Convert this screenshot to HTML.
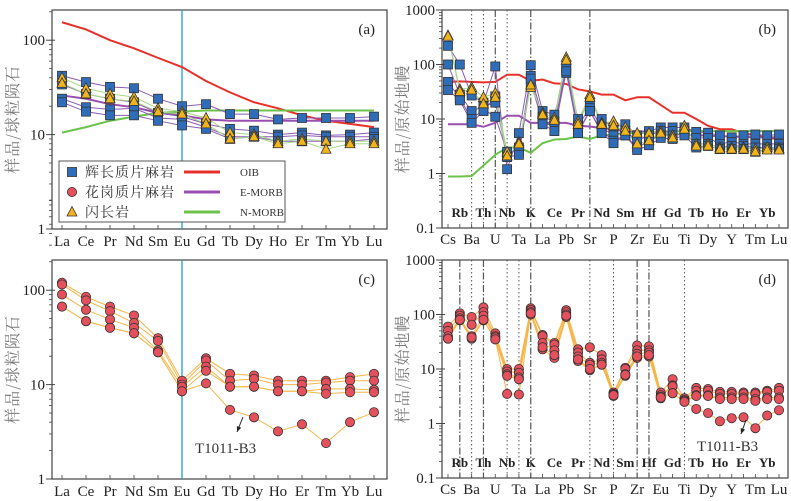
<!DOCTYPE html>
<html><head><meta charset="utf-8">
<style>
html,body{margin:0;padding:0;background:#fff;}
svg{display:block;font-family:"Liberation Serif","Noto Serif CJK SC",serif;}
</style></head>
<body>
<svg id="fig" width="791" height="501" viewBox="0 0 791 501" xmlns="http://www.w3.org/2000/svg"></svg>
<script>
// ---------- data ----------
const reeCats = ["La","Ce","Pr","Nd","Sm","Eu","Gd","Tb","Dy","Ho","Er","Tm","Yb","Lu"];
const spiderCats = ["Cs","Rb","Ba","Th","U","Nb","Ta","K","La","Ce","Pb","Pr","Sr","Nd","P","Sm","Zr","Hf","Eu","Gd","Ti","Tb","Dy","Ho","Y","Er","Tm","Yb","Lu"];
const spiderLower = ["Cs","Ba","U","Ta","La","Pb","Sr","P","Zr","Eu","Ti","Dy","Y","Tm","Lu"];
const logTicksA = [1,10,100];
const logTicksB = [0.1,1,10,100,1000];

const reeOIB   = [155,130,100,82,65,52,37,28,22,19,16,14,13,12];
const reeEMORB = [26,24,21,19.5,17,16,14.5,14,14,14,14,14,14,14];
const reeNMORB = [10.5,12,14,15.5,17,17.5,18,18,18,18,18,18,18,18];
const reeGab1 = [42,36,32,31,24,20,21,16.5,16.5,14.5,15,15,15,15.5];
const reeGab2 = [34,27,24,22,17,15.5,13,11.5,11,10,10.5,9.8,10,10.5];
const reeGab3 = [24,19.5,18.5,19,15,14.5,12,9.5,9.5,9.5,9.8,9.5,9.5,9.5];
const reeGab4 = [22,17.5,16,16,14,12.5,11.5,9,9.5,8.5,8.5,8.5,8.5,9];
const reeDio1 = [40,31,27,25,19,17.5,15,10.5,10,8.5,9,8.5,8.5,8.5];
const reeDio2 = [35,27,24,22.5,17.5,16.5,13,9,9.5,8,8.5,7,8,8];
const reeGra1 = [120,85,67,54,31,11,19,13,12.5,11,11,11,12,13];
const reeGra2 = [115,78,60,45,29,10,18,11,11.5,10,10,10.5,11,11];
const reeGra3 = [90,62,49,40,23,9.5,15.5,9.5,9.5,8.5,8.5,9,9,8.8];
const reeGra4 = [67,47,40,35,22,8.5,14,9.5,9.5,8.5,8.5,8,8.3,8.3];
const reeGraB3 = [67,47,40,35,22,8.5,10.3,5.4,4.5,3.2,3.8,2.4,4,5.1];

const spOIB   = [48,49,48,47,48,65,65,50,53,45,44,35,32,28,28,22,25,25,18,13,13,10,7.5,6.5,6.5,5.5,5,4.5,4.3];
const spEMORB = [8,8,8,7.2,8.5,11.5,11.5,8.5,8.5,8.5,8.5,7.5,7.3,6.8,6.5,6,6,5.8,5.5,5.3,5.2,5,5,4.8,4.8,4.7,4.6,4.6,4.6];
const spNMORB = [0.88,0.88,0.9,1.4,2.2,3,3,2.4,3.6,4.2,4.3,4.8,4.3,5,5.2,5.5,5.5,5.6,5.8,6,6,6,6,6,6,6,6,6,6];
const spGab1 = [220,100,27,20,92,1.2,5.5,97,14,12,80,10,20,10,7,8,5,6,7,7,7,5.8,5.6,5,4.6,5,5.2,5,5.2];
const spGab2 = [100,28,14,17,20,2.3,3,62,11,9,70,7.5,16,7,5,6,4,5,6,6,6,4.5,4.5,3.5,3.8,3.5,3.5,3.5,3.5];
const spGab3 = [48,24,10,15,11,2.5,2.5,45,9,7,90,6,14,6,4,5,3,4,5,5,5.5,3.5,3.5,3,3.2,3.2,3,3,3];
const spGab4 = [34,22,8.5,14,26,2,2.2,55,8,6,75,5.5,14,5.5,3.6,5,2.7,3.3,4.5,4.3,5,3,3.2,2.8,2.8,2.8,2.5,2.8,2.8];
const spDio1 = [340,35,38,25,30,2.5,3.8,38,13,10.5,135,9,28,8.5,9,7,5.5,5.5,6,5,7.5,3.5,3.5,3,3,3,2.8,3,2.9];
const spDio2 = [330,32,34,19,25,2.1,3.5,42,12,9.5,120,8,25,8,7.5,6,3.5,4,5.5,4.5,6.5,3.2,3.2,2.8,2.8,2.8,2.5,2.7,2.7];
const spGra1 = [60,105,90,135,45,10,10,130,42,30,120,23,25,18,3.7,10.5,27,26,3.7,6.5,2.9,4.5,4.3,3.8,3.8,3.7,3.7,4,4.5];
const spGra2 = [50,95,65,110,40,9,8.5,120,40,28,110,20,13,15,3.5,10,22,22,3.3,5,2.7,4,4,3.5,3.5,3.5,3.5,3.8,4];
const spGra3 = [40,85,40,95,38,8,7,110,30,22,100,17,12,13,3.4,8,19,20,3.1,4.8,2.6,3.3,3.3,3,3,3,2.8,3,3];
const spGra4 = [36,78,36,78,35,7.5,6.5,100,23,16,90,14,9.5,12,3.2,7.5,16,17,2.9,3.6,2.5,3.2,3.2,2.8,2.8,2.8,2.6,2.8,2.8];
const spGraB3 = [36,80,38,80,35,3.5,3.4,105,25,18,95,15,10,12,3.3,7.8,17,18,3,3.6,2.5,1.85,1.55,1.1,1.25,1.3,0.82,1.4,1.75];

const vlinesB = [["Ba","dot"],["Th","dot"],["U","dashdot"],["Nb","dot"],["K","dashdot"],["Sr","dashdot"]];
const vlinesD = [["Rb","dashdot"],["Ba","dot"],["Th","dashdot"],["Nb","dot"],["Ta","dot"],["K","dashdot"],["Sr","dot"],["P","dot"],["Zr","dashdot"],["Hf","dashdot"],["Ti","dot"]];

// ---------- helpers ----------
const NS="http://www.w3.org/2000/svg";
const svg=document.getElementById('fig');
function mk(tag,attrs,parent){const e=document.createElementNS(NS,tag);for(const k in attrs)e.setAttribute(k,attrs[k]);(parent||svg).appendChild(e);return e;}
function txt(s,attrs,parent){const e=mk('text',attrs,parent);e.textContent=s;return e;}

function makePanel(cfg){
  const g=mk('g',{});
  
  
  const L=cfg.L,R=cfg.R,T=cfg.T,B=cfg.B;
  const lmin=Math.log10(cfg.ymin), lpx=(B-T)/cfg.decades;
  const y=v=>B-(Math.log10(v)-lmin)*lpx;
  const n=cfg.cats.length;
  const x=i=>cfg.x0+i*(cfg.x1-cfg.x0)/(n-1);
  const frame=mk('rect',{x:L,y:T,width:R-L,height:B-T,fill:'none',stroke:'#444','stroke-width':1.2},g);
  
  
  // y ticks
  for(let d=0; d<cfg.decades; d++){
    const base=cfg.ymin*Math.pow(10,d);
    for(let k=2;k<10;k++){const yy=y(base*k);mk('line',{x1:L-3,x2:L,y1:yy,y2:yy,stroke:'#444','stroke-width':0.8},g);}
  }
  cfg.ticks.forEach(t=>{
    const yy=y(t);
    mk('line',{x1:L-6,x2:L+3,y1:yy,y2:yy,stroke:'#444','stroke-width':1},g);
    const tl=txt(String(t),{x:L-7,y:yy+5,'text-anchor':'end','font-size':15,fill:'#222'},g);
    
    
  });
  // x ticks and labels
  cfg.cats.forEach((c,i)=>{
    const xx=x(i);
    mk('line',{x1:xx,x2:xx,y1:B,y2:B-4,stroke:'#444','stroke-width':0.8},g);
    if(cfg.lower){
      if(cfg.lower.indexOf(c)>=0){
        const tl=txt(c,{x:xx,y:B+16,'text-anchor':'middle','font-size':15,fill:'#222'},g);
        
        
      } else {
        const tl=txt(c,{x:xx,y:B-11,'text-anchor':'middle','font-size':13,'font-weight':'bold',fill:'#222'},g);
        
        
      }
    } else {
      const tl=txt(c,{x:xx,y:B+17,'text-anchor':'middle','font-size':15,fill:'#222'},g);
      
      
    }
  });
  // vertical guide lines
  (cfg.vlines||[]).forEach(v=>{
    const xx=x(cfg.cats.indexOf(v[0]));
    const ln=mk('line',{x1:xx,x2:xx,y1:T,y2:B,stroke:'#555','stroke-width':v[1]==='dot'?1:1.2,'stroke-dasharray':v[1]==='dot'?'1.5,2.5':'7,2,1.5,2'},g);
    
    
  });
  if(cfg.euLine){
    const xx=x(cfg.cats.indexOf('Eu'));
    const ln=mk('line',{x1:xx,x2:xx,y1:T,y2:B,stroke:'#1ba0d8','stroke-width':1.3},g);
    
    
  }
  // reference lines
  (cfg.refs||[]).forEach(r=>{
    const p=mk('polyline',{points:r.vals.map((v,i)=>x(i)+','+y(v)).join(' '),fill:'none',stroke:r.color,'stroke-width':2},g);
    
    
  });
  // sample series lines then markers
  (cfg.series||[]).forEach(s=>{
    const p=mk('polyline',{points:s.vals.map((v,i)=>x(i)+','+y(v)).join(' '),fill:'none',stroke:s.line,'stroke-width':1},g);
    
    
  });
  (cfg.series||[]).forEach(s=>{
    s.vals.forEach((v,i)=>{
      const m=marker(s.marker,x(i),y(v),g);
      
      
    });
  });
  // panel label
  const pl=txt(cfg.label,{x:R-12,y:T+24,'text-anchor':'end','font-size':15,fill:'#222'},g);
  
  
  // y title
  const yt=txt(cfg.ytitle,{x:0,y:0,transform:`translate(${L-34},${(T+B)/2}) rotate(-90)`,'text-anchor':'middle','font-size':16,fill:'#777','font-family':'"Noto Serif CJK SC","Noto Sans CJK SC",serif','letter-spacing':'1'},g);
  
  
  return {g,x,y};
}
function marker(type,cx,cy,g){
  if(type==='sq') return mk('rect',{x:cx-4.5,y:cy-4.5,width:9,height:9,fill:'#2f6db8',stroke:'#333','stroke-width':0.8},g);
  if(type==='tri') return mk('polygon',{points:`${cx},${cy-5.5} ${cx+5},${cy+4} ${cx-5},${cy+4}`,fill:'#f2b41c',stroke:'#333','stroke-width':0.8},g);
  return mk('circle',{cx:cx,cy:cy,r:4.6,fill:'#e4505c',stroke:'#333','stroke-width':0.8},g);
}

const purple='#8a5cb5', lgreen='#a6d88a', orange='#f6b64a';
// panel a
const pa=makePanel({name:'panel-a-ree-chondrite',L:52,R:387,T:10,B:229,ymin:1,decades:2.32,x0:62,x1:374,cats:reeCats,ticks:logTicksA,euLine:true,label:'(a)',ytitle:'样品/球粒陨石',
  refs:[{name:'oib-line',vals:reeOIB,color:'#e8302a'},{name:'emorb-line',vals:reeEMORB,color:'#9a4fb0'},{name:'nmorb-line',vals:reeNMORB,color:'#6cc24a'}],
  series:[{name:'gabbro-1',vals:reeGab1,line:purple,marker:'sq'},{name:'gabbro-2',vals:reeGab2,line:purple,marker:'sq'},{name:'gabbro-3',vals:reeGab3,line:purple,marker:'sq'},{name:'gabbro-4',vals:reeGab4,line:purple,marker:'sq'},{name:'diorite-1',vals:reeDio1,line:lgreen,marker:'tri'},{name:'diorite-2',vals:reeDio2,line:lgreen,marker:'tri'}]});
// legend
(function(){
  const g=mk('g',{});
  
  
  mk('rect',{x:59,y:161,width:226,height:61,fill:'#fff',stroke:'#555','stroke-width':1},g);
  const rows=[['sq','辉长质片麻岩','OIB','#e8302a'],['ci','花岗质片麻岩','E-MORB','#9a4fb0'],['tri','闪长岩','N-MORB','#6cc24a']];
  rows.forEach((r,i)=>{
    const yy=172+i*20;
    const m=marker(r[0],72,yy,g);
    
    
    const t=txt(r[1],{x:85,y:yy+5,'font-size':14,fill:'#333','font-family':'"Noto Serif CJK SC","Noto Sans CJK SC",serif','letter-spacing':'1'},g);
    
    
    mk('line',{x1:184,x2:220,y1:yy,y2:yy,stroke:r[3],'stroke-width':3},g);
    const t2=txt(r[2],{x:240,y:yy+4,'font-size':11,fill:'#333'},g);
    
    
  });
})();
// panel b
makePanel({name:'panel-b-spider-mantle',L:442,R:788,T:10,B:228,ymin:0.1,decades:4,x0:448,x1:779,cats:spiderCats,lower:spiderLower,ticks:logTicksB,vlines:vlinesB,label:'(b)',ytitle:'样品/原始地幔',
  refs:[{name:'oib-line',vals:spOIB,color:'#e8302a'},{name:'emorb-line',vals:spEMORB,color:'#9a4fb0'},{name:'nmorb-line',vals:spNMORB,color:'#6cc24a'}],
  series:[{name:'gabbro-1',vals:spGab1,line:purple,marker:'sq'},{name:'gabbro-2',vals:spGab2,line:purple,marker:'sq'},{name:'gabbro-3',vals:spGab3,line:purple,marker:'sq'},{name:'gabbro-4',vals:spGab4,line:purple,marker:'sq'},{name:'diorite-1',vals:spDio1,line:lgreen,marker:'tri'},{name:'diorite-2',vals:spDio2,line:lgreen,marker:'tri'}]});
// panel c
const pc=makePanel({name:'panel-c-ree-chondrite-granite',L:52,R:387,T:260,B:479,ymin:1,decades:2.32,x0:62,x1:374,cats:reeCats,ticks:logTicksA,euLine:true,label:'(c)',ytitle:'样品/球粒陨石',
  series:[{name:'granite-1',vals:reeGra1,line:orange,marker:'ci'},{name:'granite-2',vals:reeGra2,line:orange,marker:'ci'},{name:'granite-3',vals:reeGra3,line:orange,marker:'ci'},{name:'granite-4',vals:reeGra4,line:orange,marker:'ci'},{name:'granite-t1011-b3',vals:reeGraB3,line:orange,marker:'ci'}]});
// panel d
const pd=makePanel({name:'panel-d-spider-mantle-granite',L:442,R:788,T:260,B:478,ymin:0.1,decades:4,x0:448,x1:779,cats:spiderCats,lower:spiderLower,ticks:logTicksB,vlines:vlinesD,label:'(d)',ytitle:'样品/原始地幔',
  series:[{name:'granite-1',vals:spGra1,line:orange,marker:'ci'},{name:'granite-2',vals:spGra2,line:orange,marker:'ci'},{name:'granite-3',vals:spGra3,line:orange,marker:'ci'},{name:'granite-4',vals:spGra4,line:orange,marker:'ci'},{name:'granite-t1011-b3',vals:spGraB3,line:orange,marker:'ci'}]});
// annotations
function annot(x1,y1,x2,y2,tx,ty){
  const g=mk('g',{});
  
  
  mk('line',{x1:x1,y1:y1,x2:x2,y2:y2,stroke:'#222','stroke-width':1},g);
  const a=Math.atan2(y2-y1,x2-x1);
  mk('polygon',{points:`${x2},${y2} ${x2-6*Math.cos(a-0.4)},${y2-6*Math.sin(a-0.4)} ${x2-6*Math.cos(a+0.4)},${y2-6*Math.sin(a+0.4)}`,fill:'#222'},g);
  txt('T1011-B3',{x:tx,y:ty,'font-size':15,fill:'#333'},g);
}
annot(243,417,237,432,195,453);
annot(746,420,741,434,697,451);
</script>
</body></html>
